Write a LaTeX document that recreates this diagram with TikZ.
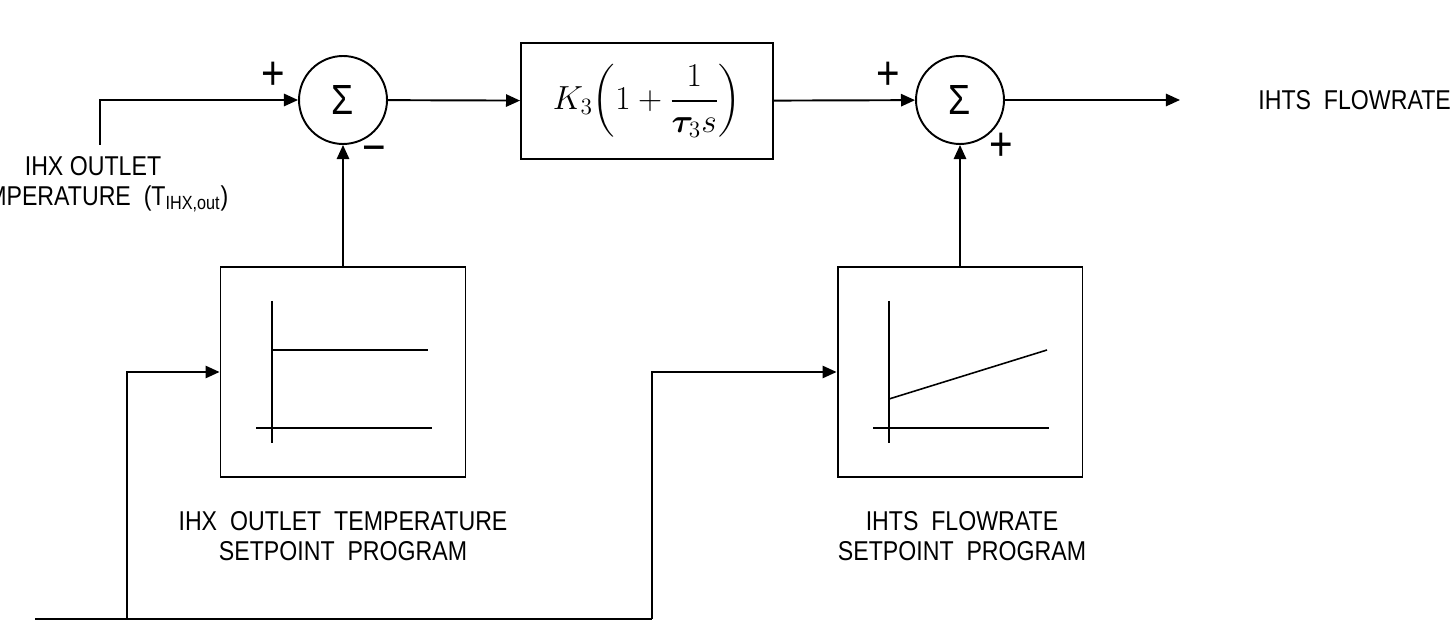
\RequirePackage{fix-cm}
\documentclass[tikz,border=0pt]{standalone}
\usepackage{amsmath,bm}
\usepackage{fontspec}
\newfontfamily\labelfont[FakeStretch=0.85]{Liberation Sans}
\usetikzlibrary{arrows.meta,positioning}
\tikzset{
  sumnode/.style={circle,draw,line width=1.1pt,minimum size=1.76cm,inner sep=0pt,font=\labelfont\fontsize{24}{26}\selectfont},
  gainbox/.style={rectangle,draw,line width=1.1pt,minimum width=5.04cm,minimum height=2.32cm,inner sep=0pt,font=\fontsize{19}{23}\selectfont},
  progbox/.style={rectangle,draw,line width=1.1pt,minimum width=4.9cm,minimum height=4.2cm,inner sep=0pt},
  sig/.style={-{Triangle[length=8pt,width=7pt]},line width=1.1pt},
  wire/.style={line width=1.1pt},
  lbl/.style={font=\labelfont\fontsize{15.5}{17}\selectfont,align=center,inner sep=0pt},
  sgn/.style={font=\labelfont\fontsize{27}{27}\selectfont,inner sep=0pt},
  trend/.style={line width=0.9pt}
}

\begin{document}
\begin{tikzpicture}[x=0.02cm,y=-0.02cm]
  \useasboundingbox (0,0) rectangle (1456,624);
  \node[sumnode] (sum1) at (343,100) {Σ};
  \node[gainbox] (gain) at (647,101) {$\displaystyle K_3\biggl(1+\frac{1}{\bm{\tau}_3 s}\biggr)$};
  \node[sumnode] (sum2) at (960,100) {Σ};
  \node[progbox] (prog1) at (343,372) {};
  \node[progbox] (prog2) at (960,372) {};
  \coordinate (tin) at (100,145);
  \coordinate (outend) at (1180,100);
  \coordinate (busstart) at (35,619);
  \coordinate (tap1) at (127,619);
  \coordinate (tap2) at (652,619);
  \node[sgn] (p1) at (273,76) {+};
  \node[sgn] (m1) at (374,155) {−};
  \node[sgn] (p2) at (888,76) {+};
  \node[sgn] (p3) at (1001,147) {+};
  \node[lbl] (tlab) at (93,184) {IHX OUTLET\\TEMPERATURE\ \ (T\textsubscript{IHX,out})};
  \node[lbl,anchor=west] (outlab) at (1258,100) {IHTS\ \ FLOWRATE};
  \node[lbl] (lab1) at (343,536) {IHX\ \ OUTLET\ \ TEMPERATURE\\SETPOINT\ \ PROGRAM};
  \node[lbl] (lab2) at (962,536) {IHTS\ \ FLOWRATE\\SETPOINT\ \ PROGRAM};
  \draw[sig] (tin) |- (sum1);
  \draw[sig] (sum1) -- (gain);
  \draw[sig] (gain) -- (sum2);
  \draw[sig] (sum2) -- (outend);
  \draw[sig] (prog1) -- (sum1);
  \draw[sig] (prog2) -- (sum2);
  \draw[wire] (busstart) -- (tap2);
  \draw[sig] (tap1) |- (prog1);
  \draw[sig] (tap2) |- (prog2);
  \foreach \ax in {272,889} {
    \draw[trend] (\ax,301) -- (\ax,443);
    \draw[trend] (\ax-16,428) -- (\ax+160,428);
  }
  \draw[trend] (272,350) -- (428,350);
  \draw[trend] (889,399) -- (1047,350);
\end{tikzpicture}
\end{document}
